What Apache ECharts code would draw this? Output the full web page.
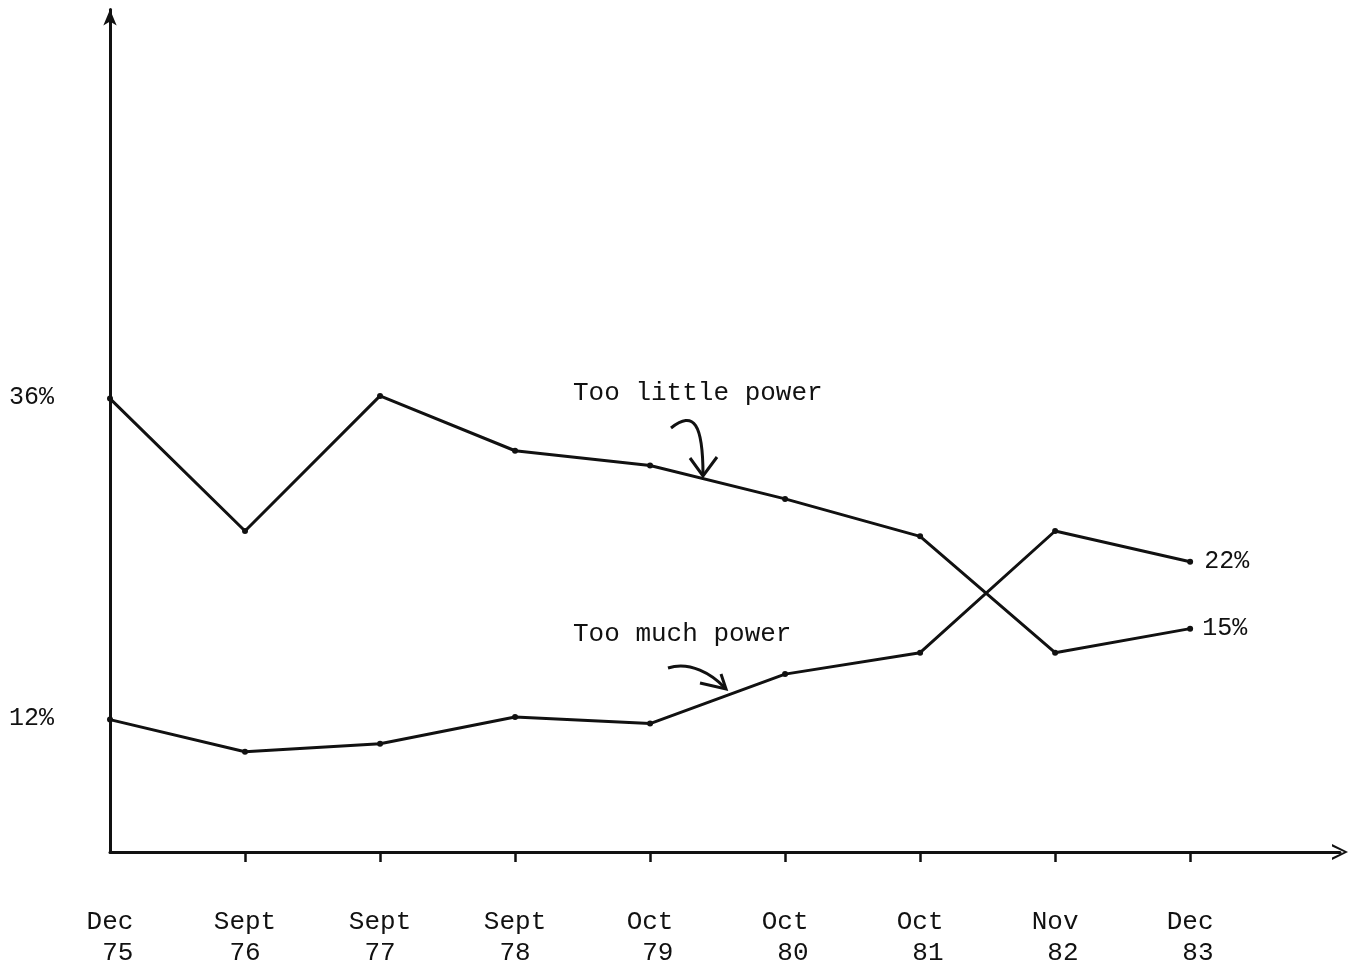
<!DOCTYPE html>
<html>
<head>
<meta charset="utf-8">
<script src="https://cdn.jsdelivr.net/npm/echarts@6/dist/echarts.min.js"></script>
<style>
html,body{margin:0;padding:0;background:#fff;}
#chart{width:1348px;height:978px;}
</style>
</head>
<body>
<div id="chart"></div>
<script>
// ---- data ----
const months = ['Dec', 'Sept', 'Sept', 'Sept', 'Oct', 'Oct', 'Oct', 'Nov', 'Dec'];
const years = ['75', '76', '77', '78', '79', '80', '81', '82', '83'];
const tooLittlePower = [35.9, 26.0, 36.1, 32.0, 30.9, 28.4, 25.6, 16.9, 18.7];
const tooMuchPower = [11.9, 9.5, 10.1, 12.1, 11.6, 15.3, 16.9, 26.0, 23.7];
const yTickValues = [12, 36];
const seriesNames = ['Too little power', 'Too much power'];
const endLabels = ['15%', '22%'];

const FONT = "'Liberation Mono', 'DejaVu Sans Mono', monospace";
const INK = '#111';

const chart = echarts.init(document.getElementById('chart'), null, {renderer: 'canvas'});

const catIdx = months.map((m, i) => i);
function pts(arr) { return arr.map((v, i) => [i, v]); }

const option = {
  backgroundColor: '#fff',
  animation: false,
  grid: {left: 110, right: 8, top: 9.4, bottom: 126, containLabel: false},
  xAxis: {
    type: 'value',
    min: 0,
    max: 9.11,
    splitLine: {show: false},
    axisLine: {show: true, lineStyle: {color: INK, width: 3}, symbol: ['none', 'path://M0,20 L10,0 L20,20 L17,20 L10,5 L3,20 Z'], symbolSize: [16, 16]},
    axisTick: {show: true, customValues: catIdx.slice(1), length: 10, lineStyle: {color: INK, width: 2.5}},
    axisLabel: {
      show: true,
      customValues: catIdx,
      margin: 55,
      fontFamily: FONT,
      fontSize: 26,
      lineHeight: 31,
      color: INK,
      align: 'center',
      formatter: function (v) {
        const i = Math.round(v);
        if (i < 0 || i >= months.length) return '';
        const y = months[i].length === 3 ? ' ' + years[i] : years[i];
        return months[i] + '\n' + y;
      }
    }
  },
  yAxis: {
    type: 'value',
    min: 2,
    max: 65,
    splitLine: {show: false},
    axisLine: {show: true, lineStyle: {color: INK, width: 3}, symbol: ['none', 'arrow'], symbolSize: [10, 16]},
    axisTick: {show: false},
    axisLabel: {
      show: true,
      customValues: yTickValues,
      margin: 56,
      fontFamily: FONT,
      fontSize: 25,
      color: INK,
      formatter: function (v) { return v + '%'; }
    }
  },
  series: [
    {
      name: seriesNames[0],
      type: 'line',
      data: pts(tooLittlePower),
      symbol: 'circle',
      symbolSize: 6,
      itemStyle: {color: INK},
      lineStyle: {color: INK, width: 3},
      endLabel: {show: true, formatter: endLabels[0], distance: 12, fontFamily: FONT, fontSize: 25, color: INK}
    },
    {
      name: seriesNames[1],
      type: 'line',
      data: pts(tooMuchPower),
      symbol: 'circle',
      symbolSize: 6,
      itemStyle: {color: INK},
      lineStyle: {color: INK, width: 3},
      endLabel: {show: true, formatter: endLabels[1], distance: 14, fontFamily: FONT, fontSize: 25, color: INK}
    }
  ],
  graphic: [
    {type: 'text', left: 573, top: 380, style: {text: seriesNames[0], font: "26px 'Liberation Mono', monospace", fill: INK}},
    {type: 'text', left: 573, top: 621, style: {text: seriesNames[1], font: "26px 'Liberation Mono', monospace", fill: INK}},
    {type: 'bezierCurve', shape: {x1: 671, y1: 428, cpx1: 694, cpy1: 410, cpx2: 703, cpy2: 424, x2: 703, y2: 475}, style: {stroke: INK, lineWidth: 3, fill: null}},
    {type: 'polyline', shape: {points: [[690, 458], [703, 476], [717, 457]]}, style: {stroke: INK, lineWidth: 3, fill: null}},
    {type: 'bezierCurve', shape: {x1: 668, y1: 668, cpx1: 690, cpy1: 661, cpx2: 712, cpy2: 674, x2: 725, y2: 688}, style: {stroke: INK, lineWidth: 3, fill: null}},
    {type: 'polyline', shape: {points: [[700, 683], [726, 689], [721, 674]]}, style: {stroke: INK, lineWidth: 3, fill: null}}
  ]
};

chart.setOption(option);
</script>
</body>
</html>
